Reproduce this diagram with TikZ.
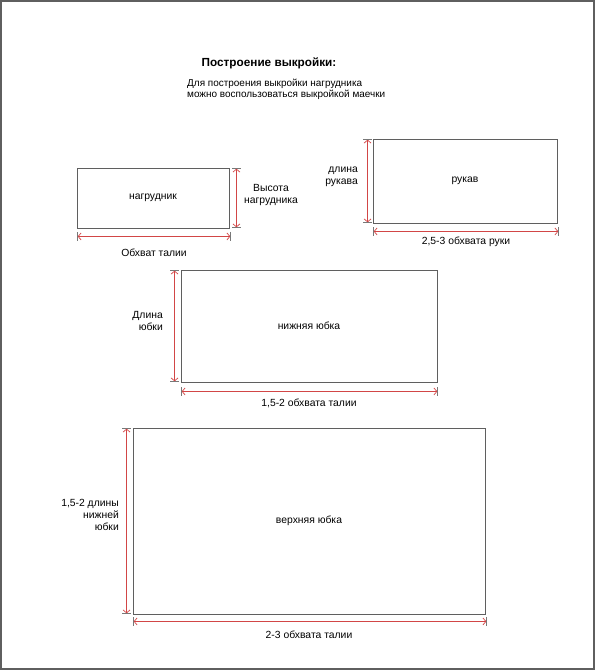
\documentclass[tikz,border=0pt]{standalone}
\usepackage{fontspec}
\setmainfont{Liberation Sans}
\usetikzlibrary{arrows.meta,calc}
\definecolor{dimred}{RGB}{210,70,70}
\definecolor{tickgray}{RGB}{120,120,120}
\definecolor{edgegray}{RGB}{95,95,95}
\tikzset{
	piece/.style={draw=edgegray, line width=0.9bp, inner sep=0pt, font=\fontsize{10.4}{12}\selectfont},
	dim/.style={draw=dimred, line width=0.7bp,
		{Bar[width=9bp,color=tickgray,line width=1.1bp]Straight Barb[length=3bp,width=7bp]}-{Straight Barb[length=3bp,width=7bp]Bar[width=9bp,color=tickgray,line width=1.1bp]}},
	lbl/.style={font=\fontsize{10.4}{12}\selectfont, inner sep=0pt, align=center}
}

\begin{document}
\begin{tikzpicture}[x=1bp,y=-1bp]
		%%%%% START %%%%%
		\useasboundingbox (0,0) rectangle (595,670);
		\draw[edgegray, line width=1.6bp] (0.8,0.8) rectangle (594.2,669.2);
		
		\node[font=\fontsize{11.8}{14}\selectfont\bfseries] (title) at (269,63) {Построение выкройки:};
		\node[lbl, align=left, anchor=west, font=\fontsize{10}{11}\selectfont] (note) at (187,89) {Для построения выкройки нагрудника\\можно воспользоваться выкройкой маечки};
		
		\node[piece, minimum width=152bp, minimum height=60bp] (bib) at (153,198) {нагрудник};
		\node[piece, minimum width=184bp, minimum height=84bp] (sleeve) at (465,181) {рукав};
		\node[piece, minimum width=256bp, minimum height=112bp] (under) at (309,326) {нижняя юбка};
		\node[piece, minimum width=352bp, minimum height=186bp] (over) at (309,521) {верхняя юбка};
		
		% bib
		\draw[dim] ($(bib.north east)+(7,0)$) -- ($(bib.south east)+(7,0)$);
		\draw[dim] ($(bib.south west)+(0,8)$) -- ($(bib.south east)+(2,8)$);
		\node[lbl] (bibh) at (271,195) {Высота\\нагрудника};
		\node[lbl] (bibw) at (154,253) {Обхват талии};
		
		% sleeve
		\draw[dim] ($(sleeve.north west)+(-5,0)$) -- ($(sleeve.south west)+(-5,0)$);
		\draw[dim] ($(sleeve.south west)+(0,8)$) -- ($(sleeve.south east)+(2,8)$);
		\node[lbl, align=right, anchor=east] (sleeveh) at (358,177) {длина\\рукава};
		\node[lbl] (sleevew) at (466,242) {2,5-3 обхвата руки};
		
		% under skirt
		\draw[dim] ($(under.north west)+(-6,0)$) -- ($(under.south west)+(-6,0)$);
		\draw[dim] ($(under.south west)+(0,9)$) -- ($(under.south east)+(1,9)$);
		\node[lbl, align=right, anchor=east] (underh) at (163,321) {Длина\\юбки};
		\node[lbl] (underw) at (309,403) {1,5-2 обхвата талии};
		
		% over skirt
		\draw[dim] ($(over.north west)+(-6,0)$) -- ($(over.south west)+(-6,0)$);
		\draw[dim] ($(over.south west)+(0,7)$) -- ($(over.south east)+(2,7)$);
		\node[lbl, align=right, anchor=east] (overh) at (119,515) {1,5-2 длины\\нижней\\юбки};
		\node[lbl] (overw) at (309,635) {2-3 обхвата талии};
		%%%%% END %%%%%
	\end{tikzpicture}
\end{document}
